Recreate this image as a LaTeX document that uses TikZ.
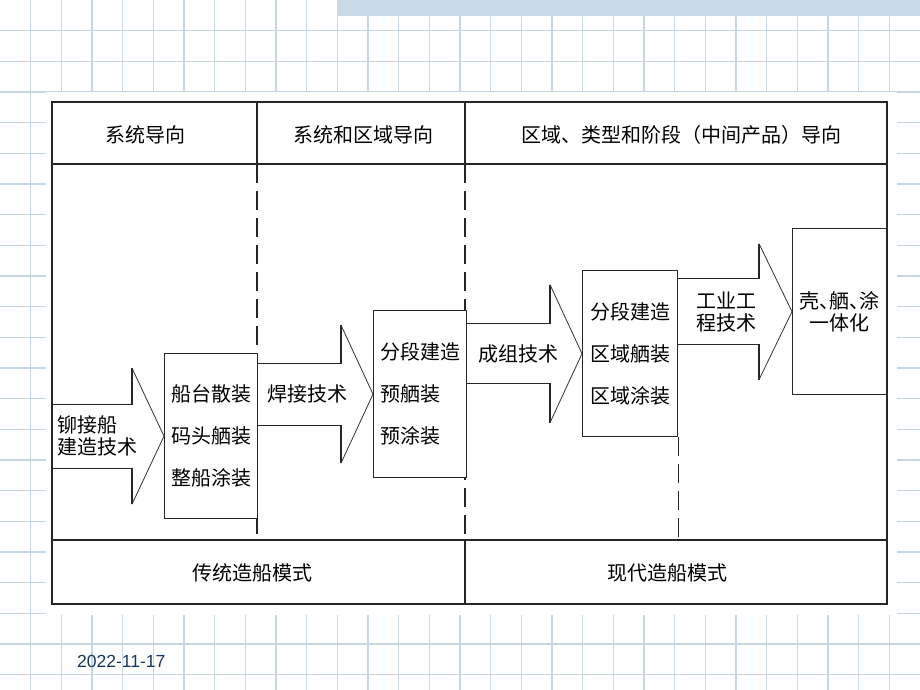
\documentclass[tikz,border=0pt]{standalone}
\usepackage{fontspec}
\setmainfont{Liberation Sans}
\newfontfamily\cjk{Noto Sans CJK SC}
\usetikzlibrary{positioning,calc}
\definecolor{gridblue}{RGB}{198,214,228}
\definecolor{bandblue}{RGB}{203,218,232}
\definecolor{datecol}{RGB}{23,55,94}
\tikzset{
	gridline/.style={line width=1.4pt, gridblue}, % paper grid behind the panel
	rule/.style={line width=1.6pt, black!85}, % table frame
	dashrule/.style={line width=1.3pt, black!85, dash pattern=on 19pt off 8pt},
	stage/.style={draw=black!85, line width=1.3pt, fill=white, font=\cjk\fontsize{20}{42}\selectfont,
		align=left, text width=80pt, inner xsep=6.5pt, anchor=north west},
	shaft/.style={line width=1.3pt, black!85}, % body of a block arrow
	head/.style={line width=0.8pt, black!80}, % slanted sides of the head
	lbl/.style={font=\cjk\fontsize{20}{22}\selectfont, inner sep=0pt},
}
\begin{document}
\begin{tikzpicture}[x=1pt,y=-1pt]
	\useasboundingbox (0,0) rectangle (920,690);
	\foreach \k in {1,...,29} \draw[gridline] (\k*30.667,0) -- (\k*30.667,690);
	\foreach \k in {1,...,22} \draw[gridline] (0,\k*30.667) -- (920,\k*30.667);
	\fill[white] (46,92) rectangle (897,615);
	\fill[bandblue] (337,0) rectangle (920,16);

	% table
	\node[draw, rule, minimum width=835pt, minimum height=502pt, anchor=north west, inner sep=0pt] (tab) at (51,101) {};
	\draw[rule] (51,164) -- (886,164);
	\draw[rule] (51,540) -- (886,540);
	\draw[rule] (257,101) -- (257,164);
	\draw[rule] (465,101) -- (465,164);
	\draw[rule] (465,540) -- (465,603);
	\draw[dashrule] (257,164) -- (257,540);
	\draw[dashrule] (465,164) -- (465,540);

	\node[lbl] at (145,135) {系统导向};
	\node[lbl] at (363,135) {系统和区域导向};
	\node[lbl] at (681,135) {区域、类型和阶段（中间产品）导向};
	\node[lbl] at (252,573) {传统造船模式};
	\node[lbl] at (667,573) {现代造船模式};

	% stages
	\node[stage, minimum height=165pt] (oldyard) at (164,353) {船台散装\\码头舾装\\整船涂装};
	\node[stage, minimum height=167pt, minimum width=92pt] (preout) at (373,310) {分段建造\\预舾装\\预涂装};
	\node[stage, minimum height=166pt, minimum width=95pt] (zoneout) at (582,270) {分段建造\\区域舾装\\区域涂装};
	\node[stage, minimum height=166pt, minimum width=94pt, align=center, font=\cjk\fontsize{20}{22}\selectfont] (integrate) at (792,228)
		{壳\makebox[10pt][l]{、}舾\makebox[10pt][l]{、}涂\\一体化};
	\draw[dashrule] (zoneout.south east) -- (zoneout.south east |- 0,540);

	% block arrows
	\draw[shaft] let \p1=(oldyard.west), \p2=(tab.west) in
		(\x2,\y1+32pt) -- (\x1-32pt,\y1+32pt) -- (\x1-32pt,\y1+68pt)
		(\x2,\y1-32pt) -- (\x1-32pt,\y1-32pt) -- (\x1-32pt,\y1-68pt);
	\draw[head] let \p1=(oldyard.west) in (\x1-32pt,\y1+68pt) -- (oldyard.west) -- (\x1-32pt,\y1-68pt);
	\draw[shaft] let \p1=(preout.west), \p2=(oldyard.east) in
		(\x2,\y1+31pt) -- (\x1-32pt,\y1+31pt) -- (\x1-32pt,\y1+69pt)
		(\x2,\y1-31pt) -- (\x1-32pt,\y1-31pt) -- (\x1-32pt,\y1-69pt);
	\draw[head] let \p1=(preout.west) in (\x1-32pt,\y1+69pt) -- (preout.west) -- (\x1-32pt,\y1-69pt);
	\draw[shaft] let \p1=(zoneout.west), \p2=(preout.east) in
		(\x2,\y1+30pt) -- (\x1-32pt,\y1+30pt) -- (\x1-32pt,\y1+69pt)
		(\x2,\y1-30pt) -- (\x1-32pt,\y1-30pt) -- (\x1-32pt,\y1-69pt);
	\draw[head] let \p1=(zoneout.west) in (\x1-32pt,\y1+69pt) -- (zoneout.west) -- (\x1-32pt,\y1-69pt);
	\draw[shaft] let \p1=(integrate.west), \p2=(zoneout.east) in
		(\x2,\y1+33pt) -- (\x1-33pt,\y1+33pt) -- (\x1-33pt,\y1+68pt)
		(\x2,\y1-33pt) -- (\x1-33pt,\y1-33pt) -- (\x1-33pt,\y1-68pt);
	\draw[head] let \p1=(integrate.west) in (\x1-33pt,\y1+68pt) -- (integrate.west) -- (\x1-33pt,\y1-68pt);

	\node[lbl, anchor=west, align=left, xshift=6pt] (rivet) at (tab.west |- oldyard.west) {铆接船\\建造技术};
	\node[lbl, anchor=west, xshift=9pt] (weld) at (oldyard.east |- preout.west) {焊接技术};
	\node[lbl, anchor=west, xshift=11pt] (group) at (preout.east |- zoneout.west) {成组技术};
	\node[lbl, align=center, xshift=48pt] (industrial) at (zoneout.east |- integrate.west) {工业工\\程技术};

	\node[font=\fontsize{17.5}{20}\selectfont, text=datecol, anchor=west, inner sep=0pt] (date) at (77,661) {2022-11-17};
\end{tikzpicture}
\end{document}
